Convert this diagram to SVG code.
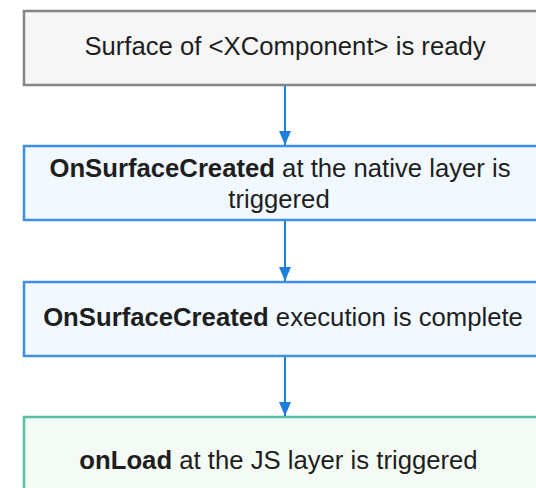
<svg xmlns="http://www.w3.org/2000/svg" width="536" height="488" viewBox="0 0 536 488">
<defs>
<style>
text{font-family:"Liberation Sans","Noto Sans",Arial,sans-serif;font-size:25.7px;fill:#1e1e1e;text-anchor:middle}
.b{font-weight:bold}
.grey{fill:#f6f6f6;stroke:#858585;stroke-width:2.5}
.blue{fill:#f1f8ff;stroke:#3f90e3;stroke-width:2.5}
.green{fill:#f4faf4;stroke:#56c2a3;stroke-width:2.5}
.conn{stroke:#1f7ddb;stroke-width:2;fill:none}
</style>
<marker id="ah" markerWidth="14" markerHeight="12" refX="14" refY="6" orient="auto" markerUnits="userSpaceOnUse" viewBox="0 0 14 12">
<path d="M0,0 L14,6 L0,12 Z" fill="#1f7ddb"/>
</marker>
</defs>
<rect width="536" height="488" fill="#ffffff"/>
<g id="node1">
<rect class="grey" x="24" y="11" width="530" height="74"/>
<text x="285" y="55">Surface of &lt;XComponent&gt; is ready</text>
</g>
<g id="node2">
<rect class="blue" x="24" y="146" width="530" height="74"/>
<text x="280" y="177"><tspan class="b">OnSurfaceCreated</tspan> at the native layer is</text>
<text x="279" y="208">triggered</text>
</g>
<g id="node3">
<rect class="blue" x="24" y="282" width="530" height="74"/>
<text x="283" y="326"><tspan class="b">OnSurfaceCreated</tspan> execution is complete</text>
</g>
<g id="node4">
<rect class="green" x="24" y="417" width="530" height="90"/>
<text x="278.5" y="469"><tspan class="b">onLoad</tspan> at the JS layer is triggered</text>
</g>
<g id="connectors">
<path class="conn" d="M285,86 V145" marker-end="url(#ah)"/>
<path class="conn" d="M285,221 V281" marker-end="url(#ah)"/>
<path class="conn" d="M285,357 V416" marker-end="url(#ah)"/>
</g>
</svg>
